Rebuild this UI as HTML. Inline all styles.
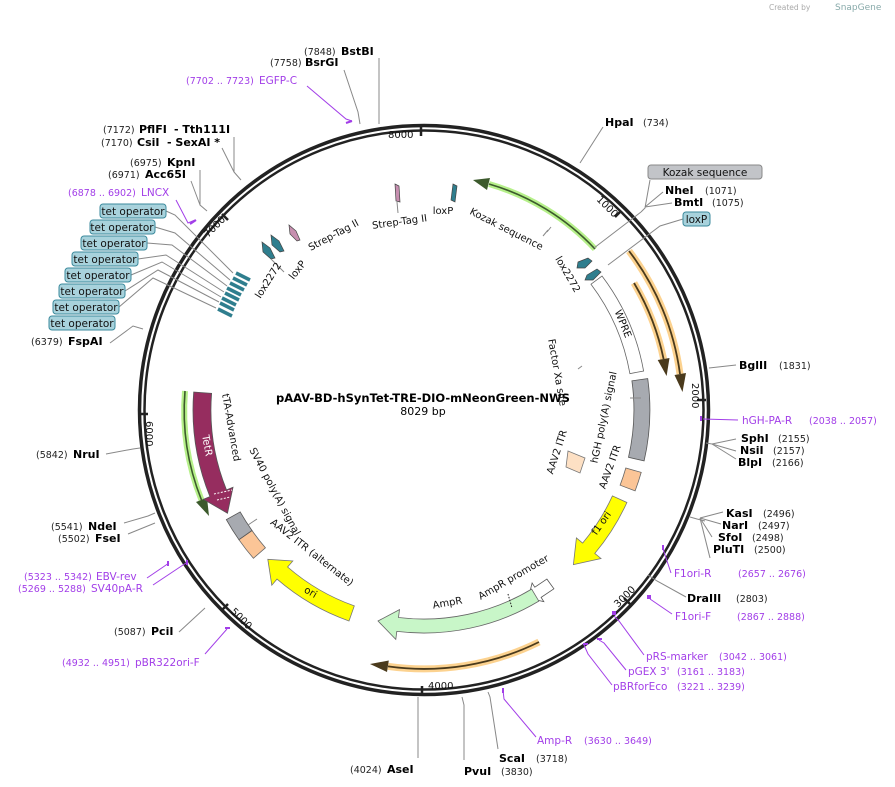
<!DOCTYPE html>
<html><head><meta charset="utf-8"><style>
html,body{margin:0;padding:0;background:#fff;}
svg{display:block;font-family:"DejaVu Sans","Liberation Sans",sans-serif;}
.b{font-weight:bold;font-size:11px;fill:#000;}
.n{font-size:9.5px;fill:#222;}
.p{font-size:10.5px;fill:#a23ee8;}
.pn{font-size:9.5px;fill:#a23ee8;}
.f{font-size:10px;fill:#111;}
.ln{stroke:#888;stroke-width:1;fill:none;}
.pl{stroke:#a23ee8;stroke-width:1;fill:none;}
</style></head><body>
<svg width="895" height="787" viewBox="0 0 895 787" xmlns="http://www.w3.org/2000/svg">
<text x="769" y="10" font-size="7.5" fill="#aaa">Created by</text>
<text x="835" y="10" font-size="9" fill="#8aa">SnapGene</text>

<circle cx="424" cy="410" r="284.5" fill="none" stroke="#222" stroke-width="3.5"/>
<circle cx="424" cy="410" r="279.5" fill="none" stroke="#222" stroke-width="2.5"/>

<g stroke="#222" stroke-width="2.5">
<line x1="421" y1="124" x2="421" y2="136"/>
<line x1="621" y1="211" x2="615" y2="217"/>
<line x1="706" y1="400" x2="697" y2="400"/>
<line x1="630" y1="604" x2="624" y2="598"/>
<line x1="422" y1="696" x2="422" y2="686"/>
<line x1="222" y1="610" x2="228" y2="604"/>
<line x1="139" y1="414" x2="148" y2="414"/>
<line x1="222" y1="214" x2="228" y2="220"/>
</g>
<g font-size="10" fill="#111">
<text x="388" y="138">8000</text>
<text transform="translate(596,200) rotate(45)">1000</text>
<text transform="translate(692,383) rotate(90)">2000</text>
<text transform="translate(618,608) rotate(-45)">3000</text>
<text x="428" y="689">4000</text>
<text transform="translate(230,612) rotate(45)">5000</text>
<text transform="translate(146,421) rotate(90)">6000</text>
<text transform="translate(208,238) rotate(-45)">7000</text>
</g>

<text x="423" y="402" text-anchor="middle" font-weight="bold" font-size="11.5">pAAV-BD-hSynTet-TRE-DIO-mNeonGreen-NWS</text>
<text x="423" y="415" text-anchor="middle" font-size="11">8029 bp</text>

<path d="M595,249 A235,235 0 0 0 489,184" fill="none" stroke="#b6f08a" stroke-width="6"/>
<path d="M595,249 A235,235 0 0 0 489,184" fill="none" stroke="#3c5a2c" stroke-width="1.6"/>
<polygon points="487,190 490,178 473,180" fill="#3c5a2c"/>

<path d="M629,251 A259,259 0 0 1 680,374" fill="none" stroke="#fcd28f" stroke-width="7"/>
<path d="M629,251 A259,259 0 0 1 680,374" fill="none" stroke="#4a3a1c" stroke-width="1.8"/>
<polygon points="674.5,375 686,373 682.5,392" fill="#4a3a1c"/>
<path d="M634,283 A245,245 0 0 1 663.6,359" fill="none" stroke="#fcd28f" stroke-width="7"/>
<path d="M634,283 A245,245 0 0 1 663.6,359" fill="none" stroke="#4a3a1c" stroke-width="1.8"/>
<polygon points="657.7,360 669.5,358 666.6,376" fill="#4a3a1c"/>

<path d="M539,642 A259,259 0 0 1 388,666.4" fill="none" stroke="#fcd28f" stroke-width="7"/>
<path d="M539,642 A259,259 0 0 1 388,666.4" fill="none" stroke="#4a3a1c" stroke-width="1.8"/>
<polygon points="388.8,660.5 387,672 370,664" fill="#4a3a1c"/>

<path d="M185,391 A240,240 0 0 0 201.5,500" fill="none" stroke="#b6f08a" stroke-width="6"/>
<path d="M185,391 A240,240 0 0 0 201.5,500" fill="none" stroke="#3c5a2c" stroke-width="1.6"/>
<polygon points="207,497.7 196,502 209,516" fill="#3c5a2c"/>

<path d="M602,276 A223,223 0 0 1 643.6,371 L629.9,373.6 A209,209 0 0 0 591,284.2 Z" fill="#fff" stroke="#666" stroke-width="0.8"/>
<path d="M647.7,378.6 A226,226 0 0 1 644.1,460.9 L628.5,457.3 A210,210 0 0 0 631.9,380.8 Z" fill="#a7aab0" stroke="#555" stroke-width="0.8"/>
<path d="M641.2,472.4 A226,226 0 0 1 635.1,490.9 L620.1,485.2 A210,210 0 0 0 625.8,468 Z" fill="#fbc597" stroke="#666" stroke-width="0.8"/>
<path d="M626.9,502.5 A223,223 0 0 1 594.8,553.4 L601,558.5 L573.4,564.6 L576.4,537.9 L582.6,543.1 A207,207 0 0 0 612.4,495.9 Z" fill="#ffff00" stroke="#777" stroke-width="0.8"/>
<path d="M553.9,588.8 L541.1,597.4 L543.8,601.6 L528.3,598.1 L532.1,583 L534.8,587.2 L546.9,579.1 Z" fill="#fff" stroke="#555" stroke-width="0.8"/>
<path d="M538.8,601.1 A223,223 0 0 1 396.8,631.4 L395.8,639.4 L378,621 L399.5,609.6 L398.5,617.5 A209,209 0 0 0 531.6,589.1 Z" fill="#c8f6c8" stroke="#666" stroke-width="0.8"/>
<line x1="508" y1="594" x2="512" y2="608" stroke="#222" stroke-dasharray="1.5,1.5"/>
<path d="M349,621 A224,224 0 0 1 277,579.1 L271.8,585.2 L267.8,559.3 L292.8,561 L287.6,567 A208,208 0 0 0 354.3,605.9 Z" fill="#ffff00" stroke="#777" stroke-width="0.8"/>
<path d="M253.4,558.3 A226,226 0 0 1 238.9,539.7 L252,530.5 A210,210 0 0 0 265.4,547.8 Z" fill="#fbc597" stroke="#666" stroke-width="0.8"/>
<path d="M238.9,539.7 A226,226 0 0 1 226.3,519.6 L240.2,511.9 A210,210 0 0 0 252,530.5 Z" fill="#a7aab0" stroke="#555" stroke-width="0.8"/>
<path d="M193.7,392 A231,231 0 0 0 209.9,496.6 L203.4,499.3 L227.5,513.2 L233,487.3 L226.5,489.9 A213,213 0 0 1 211.6,393.4 Z" fill="#962d5f" stroke="#555" stroke-width="0.8"/>
<g stroke="#fff" stroke-width="1" stroke-dasharray="2,1.5"><line x1="214" y1="494" x2="232" y2="490"/><line x1="217" y1="500" x2="230" y2="497"/></g>
<path d="M568,451 L585,458 L580,473 L566,467 Z" fill="#fde0c4" stroke="#777" stroke-width="0.8"/>

<g stroke="#2f7e8e" stroke-width="3.5">
<line x1="236" y1="273" x2="250" y2="280"/>
<line x1="233" y1="278" x2="247" y2="285"/>
<line x1="230" y1="283" x2="244" y2="290"/>
<line x1="227" y1="288" x2="241" y2="295"/>
<line x1="225" y1="293" x2="239" y2="300"/>
<line x1="222" y1="298" x2="236" y2="305"/>
<line x1="220" y1="303" x2="234" y2="310"/>
<line x1="218" y1="309" x2="232" y2="316"/>
</g>

<g stroke="#444" stroke-width="0.7">
<polygon points="262,242 270,248 275,258 271,259 263,252" fill="#2f7e8e"/>
<polygon points="271,235 279,241 284,251 280,252 272,245" fill="#2f7e8e"/>
<polygon points="289,225 296,231 300,240 297,241 290,234" fill="#c78fb0"/>
<polygon points="395,184 399,186 400,202 396,201" fill="#c78fb0"/>
<polygon points="453,184 457,186 455,202 451,200" fill="#2f7e8e"/>
<polygon points="578,262 588,258 592,261 585,268 577,268" fill="#2f7e8e"/>
<polygon points="587,275 597,269 601,272 593,280 585,280" fill="#2f7e8e"/>
</g>
<g class="ln"><line x1="397" y1="202" x2="398" y2="213"/><line x1="271" y1="259" x2="284" y2="272"/><line x1="547" y1="232" x2="551" y2="227"/><line x1="543" y1="236" x2="548" y2="230"/><line x1="578" y1="369" x2="582" y2="366"/><line x1="641" y1="398" x2="630" y2="398"/><line x1="248" y1="525" x2="257" y2="519"/></g>

<g class="f">
<text transform="translate(505,232) rotate(27)" text-anchor="middle">Kozak sequence</text>
<text x="443" y="214" text-anchor="middle">loxP</text>
<text transform="translate(400,225) rotate(-8)" text-anchor="middle">Strep-Tag II</text>
<text transform="translate(335,238) rotate(-28)" text-anchor="middle">Strep-Tag II</text>
<text transform="translate(300,272) rotate(-52)" text-anchor="middle">loxP</text>
<text transform="translate(271,282) rotate(-58)" text-anchor="middle">lox2272</text>
<text transform="translate(565,276) rotate(60)" text-anchor="middle">lox2272</text>
<text transform="translate(620,325) rotate(68)" text-anchor="middle">WPRE</text>
<text transform="translate(554,373) rotate(80)" text-anchor="middle">Factor Xa site</text>
<text transform="translate(607,418) rotate(-78)" text-anchor="middle">hGH poly(A) signal</text>
<text transform="translate(613,468) rotate(-70)" text-anchor="middle">AAV2 ITR</text>
<text transform="translate(560,453) rotate(-72)" text-anchor="middle">AAV2 ITR</text>
<text transform="translate(604,525) rotate(-55)" text-anchor="middle">f1 ori</text>
<text transform="translate(515,580) rotate(-30)" text-anchor="middle">AmpR promoter</text>
<text transform="translate(448,606) rotate(-10)" text-anchor="middle">AmpR</text>
<text transform="translate(309,595) rotate(30)" text-anchor="middle">ori</text>
<text transform="translate(310,555) rotate(38)" text-anchor="middle">AAV2 ITR (alternate)</text>
<text transform="translate(272,493) rotate(62)" text-anchor="middle">SV40 poly(A) signal</text>
<text transform="translate(228,428) rotate(80)" text-anchor="middle">tTA-Advanced</text>
<text transform="translate(204,446) rotate(80)" text-anchor="middle" fill="#fff">TetR</text>
</g>

<g class="ln">
<line x1="379" y1="58" x2="379" y2="124"/>
<polyline points="344,70 358,112 360,124"/>
<polyline points="234,137 234,172 241,180"/>
<polyline points="222,148 234,172"/>
<polyline points="200,170 200,205 207,211"/>
<polyline points="191,181 200,205"/>
<polyline points="166,211 175,215 233,273"/>
<polyline points="155,227 175,233 230,280"/>
<polyline points="147,243 172,245 227,286"/>
<polyline points="138,259 166,255 224,292"/>
<polyline points="131,275 162,262 221,297"/>
<polyline points="125,291 158,270 219,302"/>
<polyline points="119,307 153,278 216,308"/>
<polyline points="110,343 133,326 143,329"/>
<polyline points="106,454 133,449 140,448"/>
<polyline points="124,523 148,516 155,513"/>
<polyline points="128,534 155,523"/>
<polyline points="179,632 205,608"/>
<line x1="418" y1="758" x2="418" y2="697"/>
<polyline points="464,760 464,705 462,697"/>
<polyline points="498,749 490,697 488,692"/>
<polyline points="686,597 657,581 648,575"/>
<polyline points="705,521 697,519 690,517"/>
<polyline points="723,512 700,518"/>
<polyline points="721,524 700,518"/>
<polyline points="712,537 700,518"/>
<polyline points="710,558 700,518"/>
<polyline points="736,439 712,444 706,443"/>
<polyline points="736,451 712,444"/>
<polyline points="736,459 712,444"/>
<polyline points="736,365 709,368"/>
<polyline points="603,127 580,163"/>
<polyline points="650,180 645,208 641,212"/>
<polyline points="663,192 645,207"/>
<polyline points="672,203 645,207"/>
<polyline points="641,212 594,248"/>
<polyline points="683,219 660,226 608,265"/>
</g>
<g class="pl">
<polyline points="307,86 346,119 352,121"/>
<line x1="346" y1="123" x2="352" y2="121" stroke-width="2"/>
<polyline points="176,200 188,223 195,220"/>
<line x1="190" y1="224" x2="196" y2="220" stroke-width="2"/>
<polyline points="147,578 169,563"/>
<polyline points="153,585 186,563"/>
<polyline points="205,654 227,629"/>
<polyline points="536,737 504,699 503,690"/>
<polyline points="612,685 588,654 584,645"/>
<polyline points="626,670 604,643 599,640"/>
<polyline points="644,655 619,621 614,616"/>
<polyline points="672,614 650,599"/>
<polyline points="671,573 663,549"/>
<polyline points="738,420 703,419"/>
</g>
<g fill="#a23ee8">
<rect x="167" y="561" width="2" height="5"/><rect x="186" y="560" width="2" height="5"/>
<rect x="225" y="627" width="5" height="2"/><rect x="502" y="688" width="2" height="5"/>
<rect x="583" y="643" width="5" height="2"/><rect x="597" y="638" width="5" height="2"/>
<rect x="612" y="611" width="4" height="4"/><rect x="647" y="595" width="4" height="4"/>
<rect x="662" y="545" width="2" height="5"/><rect x="700" y="416" width="2" height="5"/>
</g>

<text class="n" x="304" y="55">(7848)</text><text class="b" x="341" y="55">BstBI</text>
<text class="n" x="270" y="66">(7758)</text><text class="b" x="305" y="66">BsrGI</text>
<text class="pn" x="186" y="84">(7702 .. 7723)</text><text class="p" x="259" y="84">EGFP-C</text>
<text class="n" x="103" y="133">(7172)</text><text class="b" x="139" y="133">PflFI</text><text class="b" x="174" y="133">- Tth111I</text>
<text class="n" x="101" y="146">(7170)</text><text class="b" x="137" y="146">CsiI</text><text class="b" x="167" y="146">- SexAI *</text>
<text class="n" x="130" y="166">(6975)</text><text class="b" x="167" y="166">KpnI</text>
<text class="n" x="108" y="178">(6971)</text><text class="b" x="145" y="178">Acc65I</text>
<text class="pn" x="68" y="196">(6878 .. 6902)</text><text class="p" x="141" y="196">LNCX</text>

<g fill="#a8d2dc" stroke="#3b8a9c" stroke-width="1">
<rect x="100" y="204" width="66" height="14" rx="3"/>
<rect x="90" y="220" width="65" height="14" rx="3"/>
<rect x="81" y="236" width="66" height="14" rx="3"/>
<rect x="72" y="252" width="66" height="14" rx="3"/>
<rect x="65" y="268" width="66" height="14" rx="3"/>
<rect x="59" y="284" width="66" height="14" rx="3"/>
<rect x="53" y="300" width="66" height="14" rx="3"/>
<rect x="49" y="316" width="66" height="14" rx="3"/>
</g>
<g font-size="10.5" fill="#111" text-anchor="middle">
<text x="133" y="215">tet operator</text>
<text x="122" y="231">tet operator</text>
<text x="114" y="247">tet operator</text>
<text x="105" y="263">tet operator</text>
<text x="98" y="279">tet operator</text>
<text x="92" y="295">tet operator</text>
<text x="86" y="311">tet operator</text>
<text x="82" y="327">tet operator</text>
</g>

<text class="n" x="31" y="345">(6379)</text><text class="b" x="68" y="345">FspAI</text>
<text class="n" x="36" y="458">(5842)</text><text class="b" x="73" y="458">NruI</text>
<text class="n" x="51" y="530">(5541)</text><text class="b" x="88" y="530">NdeI</text>
<text class="n" x="58" y="542">(5502)</text><text class="b" x="95" y="542">FseI</text>
<text class="pn" x="24" y="580">(5323 .. 5342)</text><text class="p" x="96" y="580">EBV-rev</text>
<text class="pn" x="18" y="592">(5269 .. 5288)</text><text class="p" x="91" y="592">SV40pA-R</text>
<text class="n" x="114" y="635">(5087)</text><text class="b" x="151" y="635">PciI</text>
<text class="pn" x="62" y="666">(4932 .. 4951)</text><text class="p" x="135" y="666">pBR322ori-F</text>

<text class="n" x="350" y="773">(4024)</text><text class="b" x="387" y="773">AseI</text>
<text class="b" x="464" y="775">PvuI</text><text class="n" x="501" y="775">(3830)</text>
<text class="b" x="499" y="762">ScaI</text><text class="n" x="536" y="762">(3718)</text>
<text class="p" x="537" y="744">Amp-R</text><text class="pn" x="584" y="744">(3630 .. 3649)</text>
<text class="p" x="613" y="690">pBRforEco</text><text class="pn" x="677" y="690">(3221 .. 3239)</text>
<text class="p" x="628" y="675">pGEX 3'</text><text class="pn" x="677" y="675">(3161 .. 3183)</text>
<text class="p" x="646" y="660">pRS-marker</text><text class="pn" x="719" y="660">(3042 .. 3061)</text>
<text class="p" x="675" y="620">F1ori-F</text><text class="pn" x="737" y="620">(2867 .. 2888)</text>
<text class="b" x="687" y="602">DraIII</text><text class="n" x="736" y="602">(2803)</text>
<text class="p" x="674" y="577">F1ori-R</text><text class="pn" x="738" y="577">(2657 .. 2676)</text>
<text class="b" x="726" y="517">KasI</text><text class="n" x="763" y="517">(2496)</text>
<text class="b" x="722" y="529">NarI</text><text class="n" x="758" y="529">(2497)</text>
<text class="b" x="718" y="541">SfoI</text><text class="n" x="752" y="541">(2498)</text>
<text class="b" x="713" y="553">PluTI</text><text class="n" x="754" y="553">(2500)</text>
<text class="b" x="741" y="442">SphI</text><text class="n" x="778" y="442">(2155)</text>
<text class="b" x="740" y="454">NsiI</text><text class="n" x="773" y="454">(2157)</text>
<text class="b" x="738" y="466">BlpI</text><text class="n" x="772" y="466">(2166)</text>
<text class="p" x="742" y="424">hGH-PA-R</text><text class="pn" x="809" y="424">(2038 .. 2057)</text>
<text class="b" x="739" y="369">BglII</text><text class="n" x="779" y="369">(1831)</text>
<text class="b" x="605" y="126">HpaI</text><text class="n" x="643" y="126">(734)</text>
<rect x="648" y="165" width="114" height="14" rx="3" fill="#c2c4c8" stroke="#888"/>
<text x="705" y="176" font-size="10.5" text-anchor="middle" fill="#111">Kozak sequence</text>
<text class="b" x="665" y="194">NheI</text><text class="n" x="705" y="194">(1071)</text>
<text class="b" x="674" y="206">BmtI</text><text class="n" x="712" y="206">(1075)</text>
<rect x="683" y="212" width="27" height="14" rx="3" fill="#a8d2dc" stroke="#3b8a9c"/>
<text x="696.5" y="223" font-size="10.5" text-anchor="middle" fill="#111">loxP</text>
</svg>
</body></html>
